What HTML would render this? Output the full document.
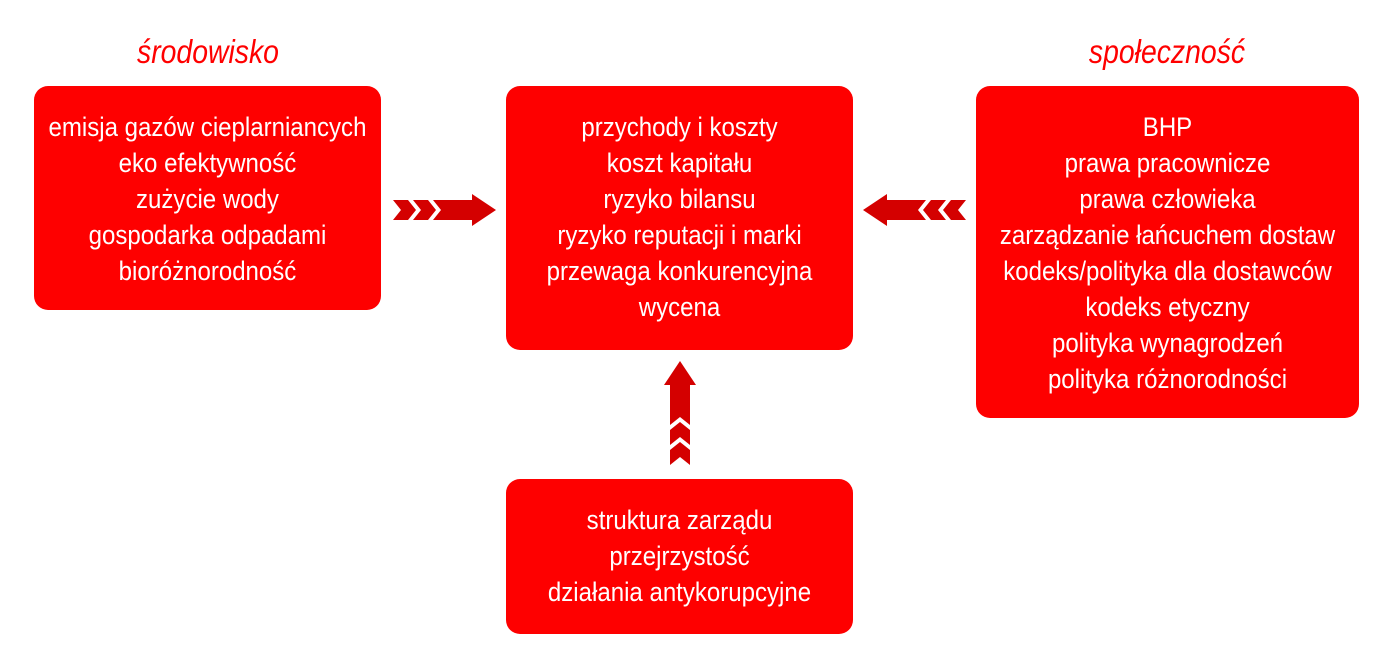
<!DOCTYPE html>
<html><head><meta charset="utf-8"><style>
body{margin:0;width:1392px;height:662px;background:#fff;position:relative;overflow:hidden;font-family:"Liberation Sans Narrow","Liberation Sans",sans-serif;}
.b{position:absolute;background:#fe0000;border-radius:14px;color:#fff;text-align:center;box-sizing:border-box;}
.b div{font-size:27px;line-height:36px;transform:scaleX(0.89);transform-origin:center top;white-space:nowrap;margin:0 -80px;}
.h{position:absolute;color:#f00;font-style:italic;font-size:33px;text-align:center;transform:scaleX(0.86);}
svg{position:absolute;left:0;top:0}
</style></head><body>
<div class="h" style="left:108px;top:33px;width:200px">środowisko</div>
<div class="h" style="left:1067px;top:33px;width:200px">społeczność</div>
<div class="b" style="left:34px;top:86px;width:347px;height:224px;padding-top:23px"><div>emisja gazów cieplarniancych<br>eko efektywność<br>zużycie wody<br>gospodarka odpadami<br>bioróżnorodność</div></div>
<div class="b" style="left:506px;top:86px;width:347px;height:264px;padding-top:23px"><div>przychody i koszty<br>koszt kapitału<br>ryzyko bilansu<br>ryzyko reputacji i marki<br>przewaga konkurencyjna<br>wycena</div></div>
<div class="b" style="left:976px;top:86px;width:383px;height:332px;padding-top:23px"><div>BHP<br>prawa pracownicze<br>prawa człowieka<br>zarządzanie łańcuchem dostaw<br>kodeks/polityka dla dostawców<br>kodeks etyczny<br>polityka wynagrodzeń<br>polityka różnorodności</div></div>
<div class="b" style="left:506px;top:479px;width:347px;height:155px;padding-top:23px"><div>struktura zarządu<br>przejrzystość<br>działania antykorupcyjne</div></div>
<svg width="1392" height="662">
<g fill="#d40000">
<polygon points="393,200 408,200 416,210 408,220 393,220 401,210"/>
<polygon points="413,200 428,200 436,210 428,220 413,220 421,210"/>
<polygon points="433,200 472,200 472,194 496,210 472,226 472,220 433,220 441,210"/>
<polygon points="966,200 951,200 943,210 951,220 966,220 958,210"/>
<polygon points="946,200 931,200 923,210 931,220 946,220 938,210"/>
<polygon points="926,200 887,200 887,194 863,210 887,226 887,220 926,220 918,210"/>
<polygon points="670,465 670,450 680,442 690,450 690,465 680,457"/>
<polygon points="670,445 670,430 680,422 690,430 690,445 680,437"/>
<polygon points="670,425 670,385 664,385 680,361 696,385 690,385 690,425 680,417"/>
</g>
</svg>
</body></html>
